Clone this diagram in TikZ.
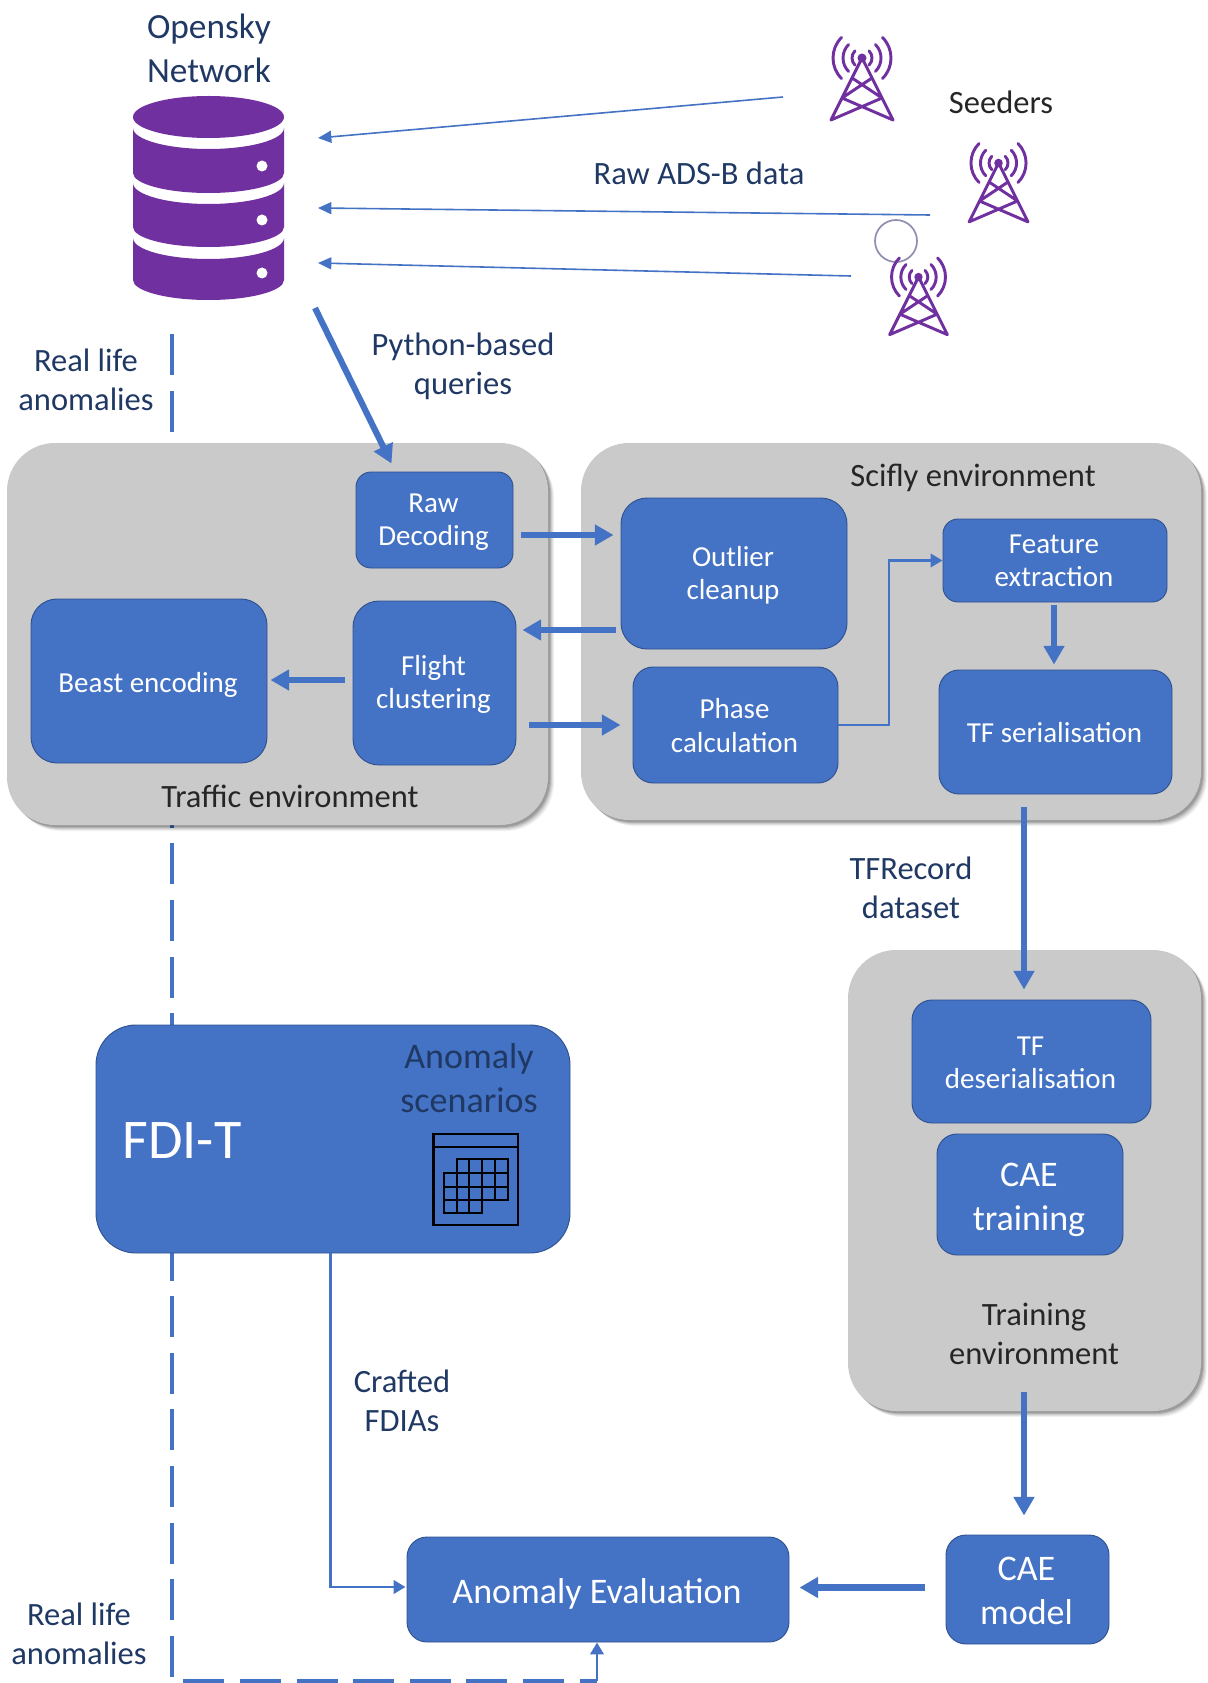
\documentclass[tikz,border=0pt]{standalone}
\usepackage{fontspec}
\setmainfont{Carlito}
\usetikzlibrary{arrows.meta}
\definecolor{bl}{HTML}{4472C4}
\definecolor{blE}{HTML}{2F528F}
\definecolor{nv}{HTML}{1F3864}
\definecolor{pu}{HTML}{7030A0}
\definecolor{gr}{HTML}{CACACA}
\tikzset{
  x=0.75pt,y=-0.75pt,
  lab/.style={align=center,text=nv,inner sep=0pt,font=\fontsize{24.4}{29.5}\selectfont},
  labk/.style={lab,text=black!85},
  fs29/.style={font=\fontsize{21.75}{25}\selectfont},
  fs36/.style={font=\fontsize{27}{33}\selectfont},
  blkst/.style={draw=blE,line width=0.7pt,fill=bl,inner sep=0pt,rounded corners=#1},
  blktx/.style={text=white,align=center,inner sep=0pt},
  thin arrow/.style={draw=bl,line width=2.2pt,-{Triangle[length=9pt,width=10pt]}},
  hair arrow/.style={draw=bl,line width=1.2pt,-{Triangle[length=10pt,width=9pt]}},
  thick arrow/.style={draw=bl,line width=4.6pt,-{Triangle[length=14pt,width=15pt]}},
  dashline/.style={draw=bl,line width=3.4pt,dash pattern=on 30.75pt off 11.7pt},
  twr/.style={draw=pu,line width=2.2pt,line cap=round,line join=round},
  pics/tower/.style={code={
    \draw[twr] (-31,62)--(0,0)--(31,62) (-31,62)--(20,40) (31,62)--(-20,40) (-20,40)--(10,20) (20,40)--(-10,20);
    \fill[pu] (0,0) circle (4.5);
    \foreach \r in {10,19,29}{
      \draw[twr] (45:\r) arc[start angle=45,end angle=-45,radius=\r];
      \draw[twr] (135:\r) arc[start angle=135,end angle=225,radius=\r];
    }
  }},
}
% name, x1, y1, x2, y2, radius, style, text, text shift
\newcommand\blk[9]{%
  \pgfmathsetmacro\bw{(#4-#2)*0.75}\pgfmathsetmacro\bh{(#5-#3)*0.75}%
  \pgfmathsetmacro\bcx{(#2+#4)/2}\pgfmathsetmacro\bcy{(#3+#5)/2}%
  \node[blkst=#6*0.75pt,minimum width=\bw pt,minimum height=\bh pt] (#1) at (\bcx,\bcy) {};
  \node[blktx,#7] (#1t) at ([shift={(-1,#9)}]#1.center) {#8};}
\newcommand\gbox[6]{%
  \foreach \d/\o in {6/.05,5/.07,4/.09,3/.12,2/.14}{
    \fill[black,opacity=\o,rounded corners=#6*0.75pt] (#2+\d,#3+\d) rectangle (#4+\d,#5+\d);}
  \pgfmathsetmacro\bw{(#4-#2)*0.75}\pgfmathsetmacro\bh{(#5-#3)*0.75}%
  \pgfmathsetmacro\bcx{(#2+#4)/2}\pgfmathsetmacro\bcy{(#3+#5)/2}%
  \node[fill=gr,rounded corners=#6*0.75pt,inner sep=0pt,minimum width=\bw pt,minimum height=\bh pt] (#1) at (\bcx,\bcy) {};}
\begin{document}
\begin{tikzpicture}
\useasboundingbox (0,0) rectangle (1207,1683);
% dashed real-life anomalies line (behind the panels)
\coordinate (dashstart) at (172,334);
\coordinate (dashcorner) at (172,1681);
\coordinate (dashend) at (597,1681);
\path[dashline] (dashstart)--(dashcorner)--(dashend);
% panels
\gbox{traffic}{7}{443}{548}{825}{48}{}
\gbox{scifly}{581}{443}{1201}{820}{48}{}
\gbox{training}{848}{950}{1201}{1411}{48}{}
% blocks
\blk{raw}{356}{472}{513}{568}{15}{fs29}{Raw\\Decoding}{2.5}
\blk{outlier}{621}{498}{847}{649}{26}{fs29}{Outlier\\cleanup}{2}
\blk{feature}{943}{519}{1167}{602}{15}{fs29}{Feature\\extraction}{0}
\blk{tfser}{939}{670}{1172}{794}{20}{fs29}{TF serialisation}{1}
\blk{phase}{633}{667}{838}{783}{20}{fs29}{Phase\\calculation}{0.5}
\blk{flight}{353}{601}{516}{765}{26}{fs29}{Flight\\clustering}{1.5}
\blk{beast}{31}{599}{267}{763}{26}{fs29}{Beast encoding}{4}
\blk{fdi}{96}{1025}{570}{1253}{40}{}{}{0}
\blk{tfdes}{912}{1000}{1151}{1123}{20}{fs29}{TF\\deserialisation}{1}
\blk{caet}{937}{1134}{1123}{1255}{20}{fs36}{CAE\\training}{5}
\blk{caem}{946}{1535}{1109}{1644}{20}{fs36}{CAE\\model}{1}
\blk{eval}{407}{1537}{789}{1642}{20}{fs36}{Anomaly Evaluation}{4}
% FDI-T text
\node[text=white,inner sep=0pt,font=\fontsize{42}{48}\selectfont] (fdit) at (182,1141) {FDI-T};
\node[lab,font=\fontsize{27}{33}\selectfont] (scen) at (469,1078) {Anomaly\\scenarios};
% calendar icon
\draw[black,line width=1.6pt] (433.5,1134) rectangle (518,1225) (433.5,1147)--(518,1147);
\draw[black,line width=1.6pt]
  (457,1159)--(508,1159)--(508,1200)--(482,1200)--(482,1213)--(444,1213)--(444,1173)--(457,1173)--cycle
  (444,1173)--(508,1173) (444,1187)--(508,1187) (444,1200)--(482,1200)
  (457,1159)--(457,1213) (469,1159)--(469,1213) (482,1159)--(482,1200) (495,1159)--(495,1200);
% database
\fill[pu] (208.5,117) ellipse[x radius=75.5,y radius=21];
\foreach \yt/\yb in {128/173,183/227,238/280}{
  \fill[pu] (133,\yt) arc[start angle=180,end angle=0,x radius=75.5,y radius=21]
    -- (284,\yb) arc[start angle=0,end angle=180,x radius=75.5,y radius=20] -- cycle;
}
\foreach \yy in {166,220,273}{\fill[white] (262,\yy) circle (5.5);}
\node[lab,font=\fontsize{26.5}{33}\selectfont] (opensky) at (209,48) {Opensky\\Network};
\coordinate (dbA) at (318,138);
\coordinate (dbB) at (318,208);
\coordinate (dbC) at (318,263);
\coordinate (dbD) at (315,308);
% seeders
\node[circle,draw=black!30!blue!25!gray!70,line width=1.3pt,fill=white,minimum size=31.5pt,inner sep=0pt] (ring) at (896,241) {};
\pic at (862,58) {tower};
\pic[scale=.95] at (998.5,163) {tower};
\pic[scale=.93] at (918.5,277) {tower};
\node[labk] (seeders) at (1001,102) {Seeders};
\coordinate (sA) at (783,97);
\coordinate (sB) at (930,215);
\coordinate (sC) at (851,276);
\draw[hair arrow] (sA)--(dbA);
\draw[hair arrow] (sB)--(dbB);
\draw[hair arrow] (sC)--(dbC);
% labels
\node[lab] (rawads) at (699,173) {Raw ADS-B data};
\node[lab] (python) at (463,366) {Python-based\\queries};
\node[lab] (real1) at (86,380) {Real life\\anomalies};
\node[lab] (real2) at (79,1634) {Real life\\anomalies};
\node[lab] (tfrec) at (911,888) {TFRecord\\dataset};
\node[lab] (craft) at (402,1401) {Crafted\\FDIAs};
\node[labk] (sciflyl) at (973,478) {Scifly environment};
\node[labk] (trafficl) at (290,796) {Traffic environment};
\node[labk] (trainl) at (1034,1334) {Training\\environment};
% connectors
\draw[thick arrow] (dbD)--([shift={(-43,-8)}]raw.north);
\draw[thick arrow] ([shift={(8,15)}]raw.east)--([shift={(-7,-38.5)}]outlier.west);
\draw[thick arrow] ([shift={(-5,56.5)}]outlier.west)--([shift={(6,-53)}]flight.east);
\draw[thick arrow] ([shift={(13,42)}]flight.east)--([shift={(-12,0)}]phase.west);
\draw[thick arrow] ([shift={(-8,-3)}]flight.west)--([shift={(3,-1)}]beast.east);
\draw[thin arrow] (phase.east)--(889,725)|-(feature.west);
\draw[thick arrow] ([shift={(-1,3)}]feature.south)--([shift={(-1.5,-5)}]tfser.north);
\draw[thick arrow] ([shift={(-31.5,13)}]tfser.south)--([shift={(-7.5,-10)}]tfdes.north);
\draw[thick arrow] (1024,1392)--([shift={(-3.5,-19)}]caem.north);
\draw[thick arrow] ([shift={(-21,-2)}]caem.west)--([shift={(10,-2)}]eval.east);
\draw[thin arrow] ([xshift=-2.5*0.75pt]fdi.south) -- (330.5,1587) -- ([shift={(-1,-2.5)}]eval.west);
\draw[thin arrow] (dashend)--([shift={(-1,0)}]eval.south);
\end{tikzpicture}
\end{document}
